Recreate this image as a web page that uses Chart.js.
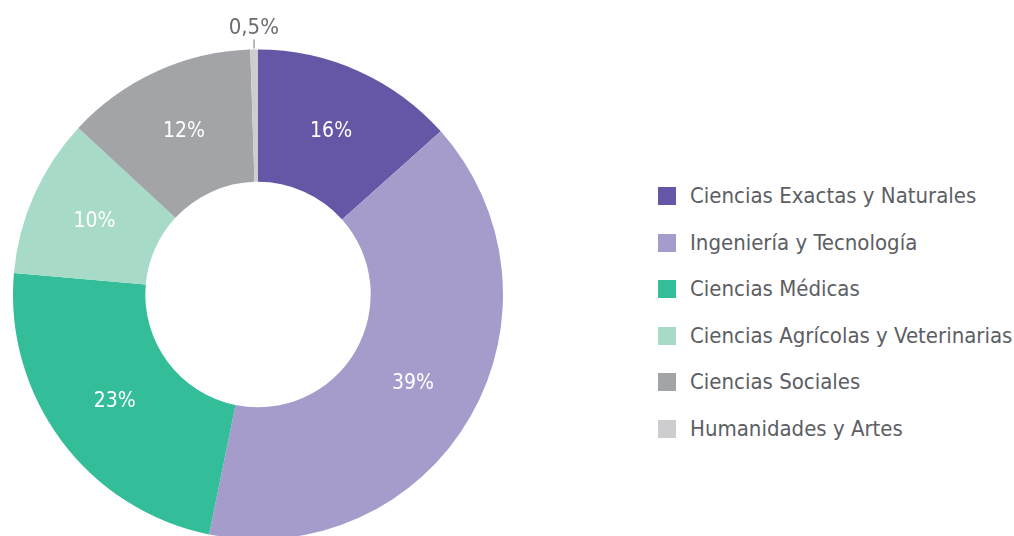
<!DOCTYPE html>
<html>
<head>
<meta charset="utf-8">
<script src="https://cdn.jsdelivr.net/npm/chart.js@4"></script>
<style>
  html, body { margin: 0; padding: 0; width: 1014px; height: 536px; overflow: hidden; background: #fff; }
  #chartBox { position: absolute; left: 0; top: 0; width: 516px; height: 600px; }
  #legend { position: absolute; left: 658px; top: 0; margin: 0; padding: 0; list-style: none; }
  #legend li { position: absolute; left: 0; white-space: nowrap; height: 20px; }
  #legend span.box { position: absolute; left: 0; top: 1px; width: 18px; height: 18px; }
  #legend span.txt { position: absolute; left: 32px; top: -3px; font: 22px "DejaVu Sans Condensed", sans-serif;
    letter-spacing: 0; color: #5c5e64; line-height: 26px; }
</style>
</head>
<body>
<div id="chartBox"><canvas id="areasChart"></canvas></div>
<ul id="legend"></ul>
<script>
// Distribución por área del conocimiento

const areas = ['Ciencias Exactas y Naturales', 'Ingeniería y Tecnología', 'Ciencias Médicas',
               'Ciencias Agrícolas y Veterinarias', 'Ciencias Sociales', 'Humanidades y Artes'];
// slice sizes as drawn in the picture (share of the circle, %)
const shares = [13.4, 39.8, 23.2, 10.5, 12.6, 0.5];
// the percentages printed on the slices
const shareLabels = ['16%', '39%', '23%', '10%', '12%', '0,5%'];
const colors = ['#6556a6', '#a59ccc', '#33bd99', '#a8dbc7', '#a2a4a8', '#cdcdcf'];

const labelFont = '21px "DejaVu Sans Condensed", sans-serif';

// draws the percentages on the slices, the tiny one outside with a short line
const sliceLabels = {
    id: 'sliceLabels',
    afterDatasetsDraw(chart) {
        const ctx = chart.ctx;
        const arcs = chart.getDatasetMeta(0).data;
        ctx.save();
        ctx.font = labelFont;
        ctx.textAlign = 'center';
        ctx.textBaseline = 'middle';
        arcs.forEach(function(arc, i) {
            const p = arc.getProps(['x', 'y', 'startAngle', 'endAngle', 'innerRadius', 'outerRadius'], true);
            const mid = (p.startAngle + p.endAngle) / 2;
            if (shares[i] < 3) {
                const c = Math.cos(mid), s = Math.sin(mid);
                ctx.strokeStyle = '#8a8c90';
                ctx.lineWidth = 1.2;
                ctx.beginPath();
                ctx.moveTo(p.x + c * (p.outerRadius + 1), p.y + s * (p.outerRadius + 1));
                ctx.lineTo(p.x + c * (p.outerRadius + 10), p.y + s * (p.outerRadius + 10));
                ctx.stroke();
                ctx.fillStyle = '#6a6c71';
                ctx.font = '22px "DejaVu Sans Condensed", sans-serif';
                ctx.fillText(shareLabels[i], p.x + c * (p.outerRadius + 21), p.y + s * (p.outerRadius + 21));
                ctx.font = labelFont;
            } else {
                const pos = arc.tooltipPosition(true);
                ctx.fillStyle = '#ffffff';
                ctx.fillText(shareLabels[i], pos.x, pos.y);
            }
        });
        ctx.restore();
    }
};

new Chart(document.getElementById('areasChart').getContext('2d'), {
    type: 'doughnut',
    data: {
        labels: areas,
        datasets: [{
            data: shares,
            backgroundColor: colors,
            borderWidth: 0
        }]
    },
    options: {
        responsive: true,
        maintainAspectRatio: false,
        animation: false,
        cutout: '46%',
        layout: { padding: { top: 49.5, bottom: 60.5, left: 0, right: 0 } },
        plugins: {
            legend: { display: false },
            tooltip: { enabled: false }
        }
    },
    plugins: [sliceLabels]
});

// legend on the right
const rowY = [196, 242.6, 289.2, 335.8, 382.4, 429];
const legend = document.getElementById('legend');
areas.forEach(function(name, i) {
    const li = document.createElement('li');
    li.style.top = (rowY[i] - 10) + 'px';
    li.innerHTML = '<span class="box" style="background:' + colors[i] + '"></span><span class="txt">' + name + '</span>';
    legend.appendChild(li);
});
</script>
</body>
</html>
